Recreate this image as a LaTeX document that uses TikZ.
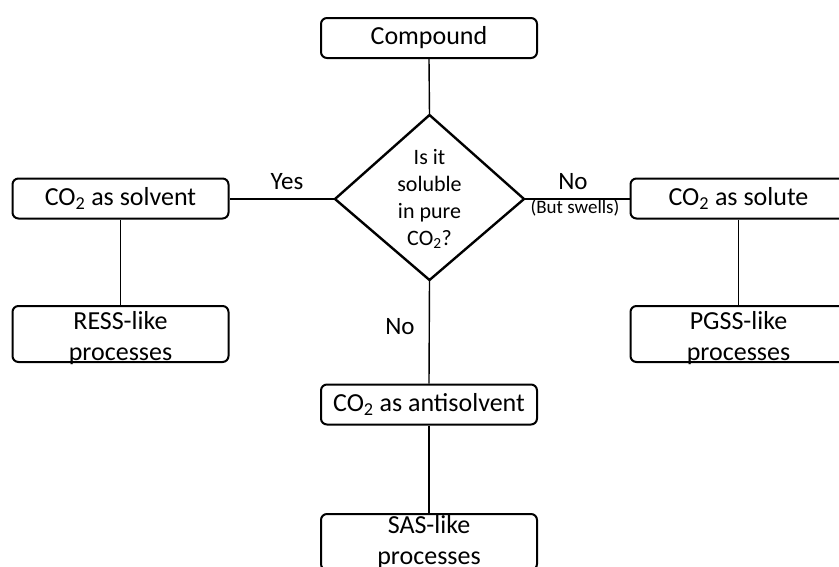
\documentclass[tikz,border=0pt]{standalone}
\usepackage{fontspec}
\setmainfont{Carlito}
\begin{document}
\begin{tikzpicture}[x=1pt,y=1pt,
  box/.style={draw, line width=2pt, rounded corners=6pt, minimum width=216pt,
    minimum height=40pt, inner sep=0pt, align=center,
    font=\fontsize{26}{31}\selectfont},
  tallbox/.style={box, minimum height=56pt},
  boxtext/.style={inner sep=0pt, align=center, font=\fontsize{26}{31}\selectfont},
  conn/.style={line width=1.4pt},
  lab/.style={inner sep=0pt, font=\fontsize{25}{30}\selectfont},
  smalllab/.style={inner sep=0pt, font=\fontsize{19}{22}\selectfont},
  qtext/.style={inner sep=0pt, align=center, font=\fontsize{22}{27}\selectfont}]
\useasboundingbox (0,0) rectangle (839,-566);
\clip (0,0) rectangle (839,-566);

% boxes
\node[box] (comp) at (429,-38) {Compound};
\node[box] (solv) at (120.5,-198.5) {CO\textsubscript{2} as solvent};
\node[tallbox] (ress) at (120.5,-334) {};
\node[boxtext] (resst) at (120.5,-338) {RESS-like\\processes};
\node[box] (solu) at (738.5,-198.5) {CO\textsubscript{2} as solute};
\node[tallbox] (pgss) at (738.5,-334) {};
\node[boxtext] (pgsst) at (738.5,-338) {PGSS-like\\processes};
\node[box] (anti) at (429,-404.5) {CO\textsubscript{2} as antisolvent};
\node[tallbox] (sas) at (429,-542) {};
\node[boxtext] (sast) at (429,-542) {SAS-like\\processes};

% decision diamond
\coordinate (dt) at (429.5,-115);
\coordinate (dr) at (524,-199);
\coordinate (db) at (429.5,-280);
\coordinate (dl) at (335,-199);
\draw[line width=2.4pt, line join=miter] (dt) -- (dr) -- (db) -- (dl) -- cycle;
\node[qtext] (q) at (429.5,-199) {Is it\\soluble\\in pure\\CO\textsubscript{2}?};

% connectors
\draw[conn] (comp.south) -- (dt);
\draw[conn] (dl) -- (dl -| solv.east);
\draw[conn] (dr) -- (dr -| solu.west);
\draw[conn] (db) -- (anti.north);
\draw[conn] (solv.south) -- (ress.north);
\draw[conn] (solu.south) -- (pgss.north);
\draw[conn] (anti.south) -- (sas.north);

% labels
\node[lab] (yes) at (287,-182) {Yes};
\node[lab] (noright) at (573,-182) {No};
\node[smalllab] (swells) at (575,-208) {(But swells)};
\node[lab] (nobottom) at (400,-327) {No};
\end{tikzpicture}
\end{document}
